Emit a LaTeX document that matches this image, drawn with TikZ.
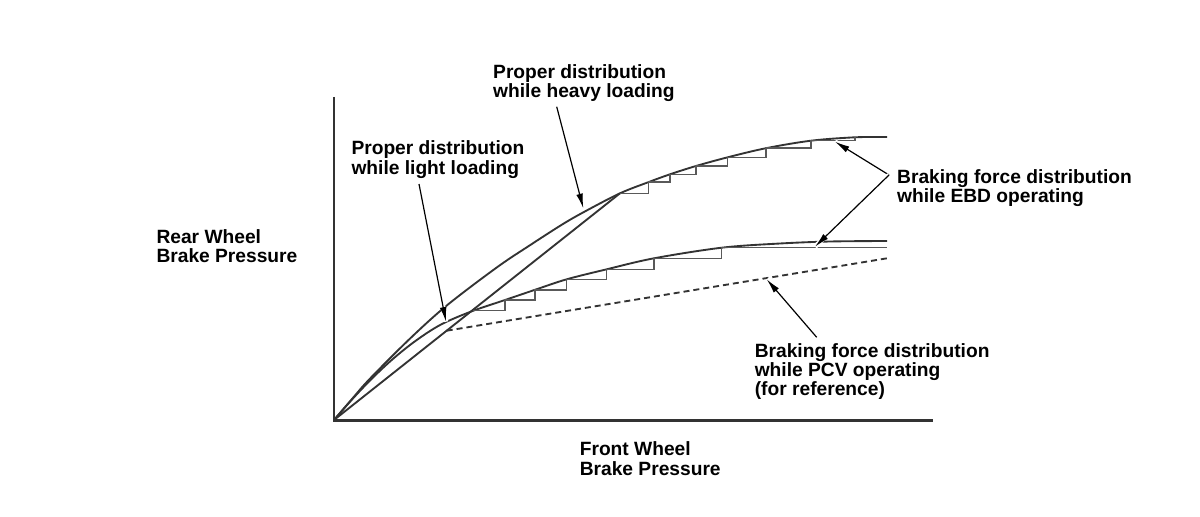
\documentclass[tikz,border=0pt]{standalone}
\usepackage{fontspec}
\setmainfont{Liberation Sans}
\usetikzlibrary{arrows.meta}

\tikzset{every picture/.style={line width=0.75pt}}
\tikzset{
  axis/.style={draw=black!80, line width=2pt},
  curve/.style={draw=black!80, line width=1.4pt},
  stairs/.style={draw=black!65, line width=1.1pt},
  pcvline/.style={draw=black!80, line width=1.4pt, dash pattern=on 4.5pt off 3pt},
  pointer/.style={draw=black, line width=0.9pt, -{Latex[length=11pt,width=5pt]},
    preaction={draw=white, line width=3.5pt, -}},
  lbl/.style={font=\bfseries\fontsize{14.4}{14.3}\selectfont, align=left, anchor=base west, inner sep=0pt}
}

\begin{document}
\begin{tikzpicture}[x=0.75pt,y=0.75pt,yscale=-1,xscale=1]
\useasboundingbox (0,0) rectangle (1200,517);

%Axes
\coordinate (O) at (334,420);
\coordinate (ytop) at (334,97);
\coordinate (xend) at (933,420.5);
\draw[axis] (ytop) |- (xend);

%Curve Lines (heavy loading)
\draw[curve] plot[smooth, tension=0.55] coordinates {(334,420) (352,399) (370,378.6) (410,338.6) (447,305.3) (497,267.3) (530,245.2) (563.3,223.8) (586.7,210.5) (620,193.3) (648.3,182.2) (670,174.3) (696,166) (727.7,157.3) (766,148.2) (811,140.7) (855,137.3) (887,137)};
%Curve Lines (light loading)
\draw[curve] plot[smooth, tension=0.55] coordinates {(334,420) (352,399.5) (370,380.5) (390,361.5) (410,345) (430,331) (446.7,321.7) (473.3,310.7) (505,300) (535,289.8) (566.7,279.3) (606.7,269.3) (654,258.3) (721.7,247.7) (780,243.5) (830,241.5) (887,241)};

%Straight Lines (EBD)
\coordinate (knee) at (620,193.3);
\draw[curve] (O) -- (knee);
%Stairs
\draw[stairs] (knee) -| (648.3,182.2) -| (670,174.3) -| (696,166) -| (727.7,157.3) -| (766,148.2) -| (811,140.7) -| (855,137.3);
\draw[stairs] (473.3,310.7) -| (505,300) -| (535,289.8) -| (566.7,279.3) -| (606.7,269.3) -| (654,258.3) -| (721.7,247.7) -- (887,247.7);

%Dashed Lines (PCV)
\coordinate (pcvbreak) at (446.7,330.7);
\coordinate (pcvend) at (887,258.3);
\draw[pcvline] (pcvbreak) -- (pcvend);

% Text Node
\node[lbl] (heavy) at (492.7,98) {Proper distribution\\while heavy loading};
% Text Node
\node[lbl] (light) at (351,174) {Proper distribution\\while light loading};
% Text Node
\node[lbl] (rear) at (156,262.3) {Rear Wheel\\Brake Pressure};
% Text Node
\node[lbl] (front) at (579.3,475) {Front Wheel\\Brake Pressure};
% Text Node
\node[lbl] (ebd) at (896.7,202.5) {Braking force distribution\\while EBD operating};
% Text Node
\node[lbl] (pcv) at (754.3,395.3) {Braking force distribution\\while PCV operating\\(for reference)};

%Arrows
\coordinate (heavytail) at (556.7,106.7);
\coordinate (heavytip) at (583.3,208.3);
\coordinate (lighttail) at (419,184);
\coordinate (lighttip) at (446,321.7);
\coordinate (ebdapex) at (889,175);
\coordinate (ebdtopt) at (835,141.7);
\coordinate (ebdlowt) at (815,246.7);
\coordinate (pcvtail) at (816.7,337.3);
\coordinate (pcvtip) at (766.7,279.3);
\draw[pointer] (heavytail) -- (heavytip);
\draw[pointer] (lighttail) -- (lighttip);
\draw[pointer] (ebdapex) -- (ebdtopt);
\draw[pointer] (ebdapex) -- (ebdlowt);
\draw[pointer] (pcvtail) -- (pcvtip);

\end{tikzpicture}
\end{document}
